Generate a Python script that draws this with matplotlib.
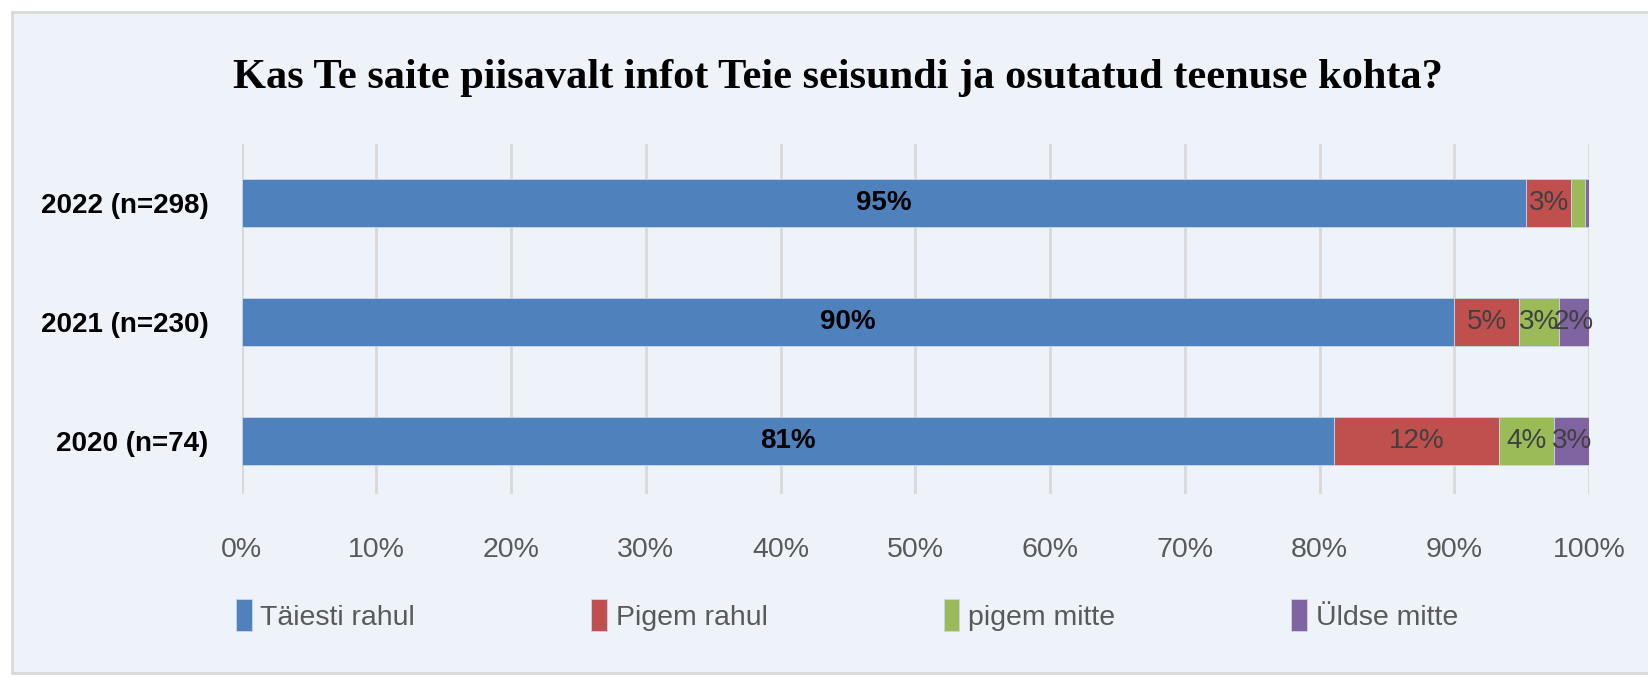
import matplotlib
matplotlib.use("Agg")
import matplotlib.pyplot as plt
from matplotlib.patches import Rectangle
from matplotlib import font_manager

# andmed (protsendid), järjestus: 2020, 2021, 2022 (alt üles)
years = ["2020 (n=74)", "2021 (n=230)", "2022 (n=298)"]
categories = ["Täiesti rahul", "Pigem rahul", "pigem mitte", "Üldse mitte"]
taiesti_rahul = [81.1, 90.0, 95.3]
pigem_rahul = [12.2, 4.8, 3.4]
pigem_mitte = [4.1, 3.0, 1.0]
uldse_mitte = [2.7, 2.2, 0.3]
xticks = [0, 10, 20, 30, 40, 50, 60, 70, 80, 90, 100]

colors = ["#4F81BD", "#C0504D", "#9BBB59", "#8064A2"]
bg = "#EEF3FA"

names = {f.name for f in font_manager.fontManager.ttflist}
sans = "Liberation Sans Narrow" if "Liberation Sans Narrow" in names else "Liberation Sans"

fig = plt.figure(figsize=(16.48, 6.78), dpi=100, facecolor="white")
# taust + raam
fig.patches.append(Rectangle((12 / 1648, 5 / 678), 1.0, 1 - 17 / 678,
                             transform=fig.transFigure, facecolor=bg,
                             edgecolor="#D9D9D9", linewidth=2, zorder=-10))

ax = fig.add_axes([241.7 / 1648, 1 - 494 / 678, (1589 - 241.7) / 1648, 350 / 678])
ax.set_facecolor("none")

series = [taiesti_rahul, pigem_rahul, pigem_mitte, uldse_mitte]
ypos = list(range(len(years)))
left = [0.0] * len(years)
for i, vals in enumerate(series):
    ax.barh(ypos, vals, left=left, height=0.40, color=colors[i],
            edgecolor="#C8D6EA", linewidth=0.6, label=categories[i], zorder=3)
    for j, v in enumerate(vals):
        if v < 1.5:
            continue
        cx = left[j] + v / 2
        if i == 0:
            ax.text(cx, j, f"{round(v):.0f}%", ha="center", va="center",
                    fontsize=20, fontweight="bold", color="black", family=sans, zorder=4)
        else:
            ax.text(cx, j, f"{round(v):.0f}%", ha="center", va="center",
                    fontsize=20, color="#404040", family=sans, zorder=4)
    left = [l + v for l, v in zip(left, vals)]

ax.set_xlim(0, 100)
ax.set_ylim(-0.445, 2.496)
ax.set_xticks(xticks)
ax.set_xticklabels([f"{t}%" for t in xticks], fontsize=20.5, color="#595959", family=sans)
ax.set_yticks(ypos)
ax.set_yticklabels(years, fontsize=20, fontweight="bold", color="black", family=sans)
ax.tick_params(axis="x", length=0, pad=31)
ax.tick_params(axis="y", length=0, pad=24)
ax.grid(axis="x", color="#D9D9D9", linewidth=2, zorder=0)
for s in ax.spines.values():
    s.set_visible(False)

fig.text(0.5 * (229 + 1446) / 1648, 1 - 78 / 678,
         "Kas Te saite piisavalt infot Teie seisundi ja osutatud teenuse kohta?",
         ha="center", va="center", fontsize=30.5, fontweight="bold",
         family="Liberation Serif", color="black")

leg = fig.legend(loc="center left", bbox_to_anchor=(222 / 1648, 1 - 615 / 678, (1472 - 222) / 1648, 0),
                 ncol=4, mode="expand", frameon=False, handlelength=0.55, handleheight=1.3,
                 handletextpad=0.3, borderpad=0, prop={"family": sans, "size": 20.5})
for t in leg.get_texts():
    t.set_color("#595959")

fig.savefig("out.png", dpi=100, facecolor="white")
